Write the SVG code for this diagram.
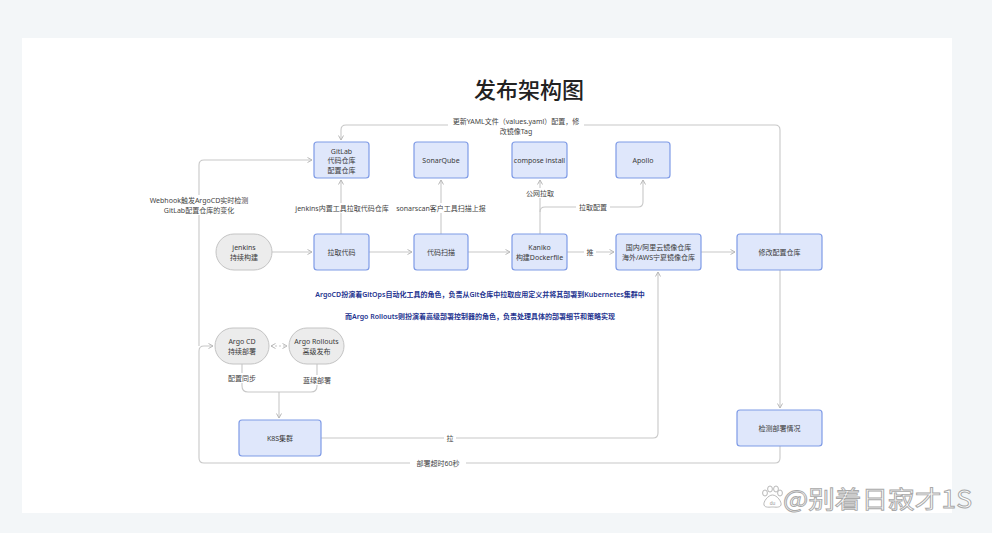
<svg xmlns="http://www.w3.org/2000/svg" width="992" height="533" viewBox="0 0 992 533">
<style>
.box{fill:#dfe7fb;stroke:#7f9be6;stroke-width:1.2}
.pill{fill:#ececec;stroke:#c4c4c4;stroke-width:1}
.t{font-family:"Noto Sans","Noto Sans CJK SC",sans-serif;font-size:7px;fill:#3a3a3a;text-anchor:middle}
.lbl{font-family:"Noto Sans","Noto Sans CJK SC",sans-serif;font-size:7px;fill:#444;text-anchor:middle}
.note{font-family:"Noto Sans","Noto Sans CJK SC",sans-serif;font-size:7px;font-weight:600;fill:#24338f;text-anchor:middle}
.e{fill:none;stroke:#c8c8c8;stroke-width:1.1}
.bg{fill:#fff}
</style>
<defs>
<marker id="a" viewBox="0 0 6 6" refX="5" refY="3" markerWidth="6" markerHeight="6" orient="auto-start-reverse" markerUnits="userSpaceOnUse">
<path d="M0.5,0.5 L5,3 L0.5,5.5" fill="none" stroke="#b8b8b8" stroke-width="1"/>
</marker>
</defs>
<rect x="0" y="0" width="992" height="533" fill="#f3f6f8"/>
<rect x="22" y="38" width="930" height="475" fill="#ffffff"/>
<text x="529" y="98" font-family="Noto Sans CJK SC,sans-serif" font-size="22" font-weight="500" fill="#222" text-anchor="middle">发布架构图</text>

<g id="connectors">
<path class="e" d="M272,252 H312" marker-end="url(#a)"/>
<path class="e" d="M369,252 H412" marker-end="url(#a)"/>
<path class="e" d="M468,252 H510" marker-end="url(#a)"/>
<path class="e" d="M567,252 H584 M596,252 H614" marker-end="url(#a)"/>
<rect x="584" y="248" width="12" height="9" class="bg"/>
<text class="lbl" x="590" y="255">推</text>
<path class="e" d="M701,252 H735" marker-end="url(#a)"/>
<path class="e" d="M780,270 V408" marker-end="url(#a)"/>
<path class="e" d="M341,234 V180" marker-end="url(#a)"/>
<rect x="298" y="203" width="88" height="10" class="bg"/>
<text class="lbl" x="342" y="210.5">jenkins内置工具拉取代码仓库</text>
<path class="e" d="M441,234 V180" marker-end="url(#a)"/>
<rect x="398" y="203" width="88" height="10" class="bg"/>
<text class="lbl" x="441" y="210.5">sonarscan客户工具扫描上报</text>
<path class="e" d="M540,234 V180" marker-end="url(#a)"/>
<rect x="524" y="188" width="32" height="10" class="bg"/>
<text class="lbl" x="540" y="195.5">公网拉取</text>
<path class="e" d="M540,212 Q540,207 545,207 H638 Q643,207 643,202 V180" marker-end="url(#a)"/>
<rect x="576" y="202" width="34" height="10" class="bg"/>
<text class="lbl" x="593" y="209.5">拉取配置</text>
<path class="e" d="M780,234 V130 Q780,125 775,125 H346 Q341,125 341,130 V140" marker-end="url(#a)"/>
<rect x="448" y="117" width="136" height="20" class="bg"/>
<text class="lbl" x="516" y="123.5">更新YAML文件（values.yaml）配置，修</text>
<text class="lbl" x="516" y="134">改镜像Tag</text>
<path class="e" d="M199,346 V165 Q199,160 204,160 H312" marker-end="url(#a)"/>
<path class="e" d="M780,446 V458 Q780,463 775,463 H204 Q199,463 199,458 V351 Q199,346 204,346 H213" marker-end="url(#a)"/>
<rect x="150" y="195" width="98" height="20" class="bg"/>
<text class="lbl" x="199" y="202.5">Webhook触发ArgoCD实时检测</text>
<text class="lbl" x="199" y="213">GitLab配置仓库的变化</text>
<rect x="410" y="458" width="56" height="10" class="bg"/>
<text class="lbl" x="438" y="465.5">部署超时60秒</text>
<path class="e" d="M271,346 H287" stroke-dasharray="2,2" marker-start="url(#a)" marker-end="url(#a)"/>
<path class="e" d="M242,364 V386 Q242,392 248,392 H311 Q317,392 317,386 V364"/>
<path class="e" d="M279,392 V418" marker-end="url(#a)"/>
<rect x="225" y="373" width="34" height="10" class="bg"/>
<text class="lbl" x="242" y="380.5">配置同步</text>
<rect x="300" y="375" width="34" height="10" class="bg"/>
<text class="lbl" x="317" y="382.5">蓝绿部署</text>
<path class="e" d="M321,438 H653 Q658,438 658,433 V272" marker-end="url(#a)"/>
<rect x="444" y="433" width="12" height="10" class="bg"/>
<text class="lbl" x="450" y="440.5">拉</text>
</g>

<g id="gitlab"><rect class="box" x="314" y="142" width="55" height="36" rx="3"/>
<text class="t" x="341.5" y="153.5">GitLab</text><text class="t" x="341.5" y="163">代码仓库</text><text class="t" x="341.5" y="172.5">配置仓库</text></g>
<g id="sonarqube"><rect class="box" x="414" y="142" width="54" height="36" rx="3"/>
<text class="t" x="441" y="162.5">SonarQube</text></g>
<g id="compose"><rect class="box" x="512" y="142" width="55" height="36" rx="3"/>
<text class="t" x="539.5" y="162.5">compose install</text></g>
<g id="apollo"><rect class="box" x="616" y="142" width="54" height="36" rx="3"/>
<text class="t" x="643" y="162.5">Apollo</text></g>

<g id="jenkins"><rect class="pill" x="216" y="234" width="56" height="36" rx="18"/>
<text class="t" x="244" y="250">jenkins</text><text class="t" x="244" y="260">持续构建</text></g>
<g id="pull-code"><rect class="box" x="314" y="234" width="55" height="36" rx="3"/>
<text class="t" x="341.5" y="254.5">拉取代码</text></g>
<g id="scan"><rect class="box" x="414" y="234" width="54" height="36" rx="3"/>
<text class="t" x="441" y="254.5">代码扫描</text></g>
<g id="kaniko"><rect class="box" x="512" y="234" width="55" height="36" rx="3"/>
<text class="t" x="539.5" y="250">Kaniko</text><text class="t" x="539.5" y="260">构建Dockerfile</text></g>
<g id="registry"><rect class="box" x="616" y="234" width="85" height="36" rx="3"/>
<text class="t" x="658.5" y="250">国内/阿里云镜像仓库</text><text class="t" x="658.5" y="260">海外/AWS宁夏镜像仓库</text></g>
<g id="update-config"><rect class="box" x="737" y="234" width="85" height="36" rx="3"/>
<text class="t" x="779.5" y="254.5">修改配置仓库</text></g>

<g id="notes">
<text class="note" x="480" y="297">ArgoCD扮演着GitOps自动化工具的角色，负责从Git仓库中拉取应用定义并将其部署到Kubernetes集群中</text>
<text class="note" x="480" y="319">而Argo Rollouts则扮演着高级部署控制器的角色，负责处理具体的部署细节和策略实现</text>
</g>

<g id="argocd"><rect class="pill" x="215" y="328" width="54" height="36" rx="18"/>
<text class="t" x="242" y="344">Argo CD</text><text class="t" x="242" y="354">持续部署</text></g>
<g id="argo-rollouts"><rect class="pill" x="289" y="328" width="55" height="36" rx="18"/>
<text class="t" x="316.5" y="344">Argo Rollouts</text><text class="t" x="316.5" y="354">高级发布</text></g>
<g id="k8s"><rect class="box" x="239" y="420" width="82" height="36" rx="3"/>
<text class="t" x="280" y="440.5">K8S集群</text></g>
<g id="check"><rect class="box" x="737" y="410" width="85" height="36" rx="3"/>
<text class="t" x="779.5" y="430.5">检测部署情况</text></g>

<g id="watermark">
<g fill="#fff" stroke="#b0b0b0" stroke-width="0.9">
<ellipse cx="765" cy="493" rx="2.4" ry="3"/><ellipse cx="770" cy="489" rx="2.4" ry="3"/><ellipse cx="776" cy="489" rx="2.4" ry="3"/><ellipse cx="780" cy="493" rx="2.4" ry="3"/>
<path d="M772.5,495 C768,495 763,502 764,505 C765,508 770,507 772.5,507 C775,507 780,508 781,505 C782,502 777,495 772.5,495 Z"/>
</g>
<text x="772.5" y="505" font-family="Liberation Sans,sans-serif" font-size="5" fill="#999" text-anchor="middle">du</text>
<text x="783" y="508" font-family="Noto Sans CJK SC,sans-serif" font-size="24" fill="#fff" stroke="#a8a8a8" stroke-width="0.9" textLength="189" lengthAdjust="spacingAndGlyphs">@别着日寂才1S</text>
</g>
</svg>
